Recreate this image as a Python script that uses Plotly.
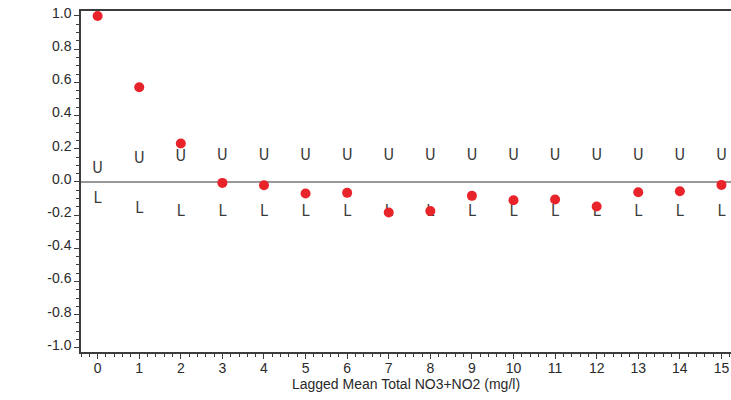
import plotly.graph_objects as go

lags = list(range(16))
acf = [1.0, 0.570, 0.231, -0.006, -0.020, -0.070, -0.066, -0.184, -0.175,
       -0.084, -0.110, -0.106, -0.148, -0.062, -0.056, -0.018]
upper = [0.075, 0.141, 0.151, 0.155, 0.155, 0.155, 0.155, 0.155, 0.155,
         0.155, 0.155, 0.155, 0.155, 0.155, 0.155, 0.155]
lower = [-0.100, -0.166, -0.181, -0.184, -0.184, -0.184, -0.184, -0.184, -0.184,
         -0.184, -0.184, -0.184, -0.184, -0.184, -0.184, -0.184]
y_ticks = [1.0, 0.8, 0.6, 0.4, 0.2, 0.0, -0.2, -0.4, -0.6, -0.8, -1.0]
x_title = "Lagged Mean Total NO3+NO2 (mg/l)"

axis_col = "#3c3c3c"
txt_col = "#2a2a2a"
ul_font = dict(family="Liberation Sans Narrow, DejaVu Sans Condensed, Arial Narrow, sans-serif",
               size=16, color="#3a3a3a")

fig = go.Figure()
fig.add_trace(go.Scatter(x=lags, y=upper, mode="text", text=["U"] * len(lags),
                         textposition="middle center", textfont=ul_font,
                         hoverinfo="skip", showlegend=False, cliponaxis=False))
fig.add_trace(go.Scatter(x=lags, y=lower, mode="text", text=["L"] * len(lags),
                         textposition="middle center", textfont=ul_font,
                         hoverinfo="skip", showlegend=False, cliponaxis=False))
fig.add_trace(go.Scatter(x=lags, y=acf, mode="markers",
                         marker=dict(color="#e8232a", size=10, line=dict(width=0)),
                         showlegend=False, cliponaxis=False))

fig.update_layout(
    width=731, height=400,
    margin=dict(l=81, r=0, t=11, b=48, autoexpand=False),
    paper_bgcolor="white", plot_bgcolor="white",
    font=dict(family="Liberation Sans, Arial, sans-serif", size=14, color=txt_col),
    showlegend=False,
)
fig.update_xaxes(
    range=[-0.40, 15.23], tickmode="array", tickvals=lags,
    ticktext=[str(v) for v in lags], automargin=False,
    showgrid=False, zeroline=False,
    showline=True, linecolor=axis_col, linewidth=1.5, mirror=True,
    ticks="outside", ticklen=5, tickwidth=1, tickcolor=axis_col,
    minor=dict(dtick=0.2, tick0=0, ticks="outside", ticklen=3, tickwidth=1,
               tickcolor=axis_col, showgrid=False),
    tickfont=dict(size=14, color=txt_col), ticklabelstandoff=-3,
    title=dict(text=x_title, font=dict(size=14, color=txt_col), standoff=3),
)
fig.update_yaxes(
    range=[-1.025, 1.03], tickmode="array", tickvals=y_ticks,
    ticktext=[f"{v:.1f}" for v in y_ticks], automargin=False,
    showgrid=False,
    zeroline=True, zerolinecolor="#999999", zerolinewidth=1.5,
    showline=True, linecolor=axis_col, linewidth=1.5, mirror=False,
    ticks="outside", ticklen=5, tickwidth=1, tickcolor=axis_col,
    minor=dict(dtick=0.05, tick0=0, ticks="outside", ticklen=3, tickwidth=1,
               tickcolor=axis_col, showgrid=False),
    tickfont=dict(size=14, color=txt_col), ticklabelshift=-3,
)

fig.write_html("out.html", config={"displayModeBar": False},
               post_script="document.body.style.margin='0';document.body.style.overflow='hidden';")
